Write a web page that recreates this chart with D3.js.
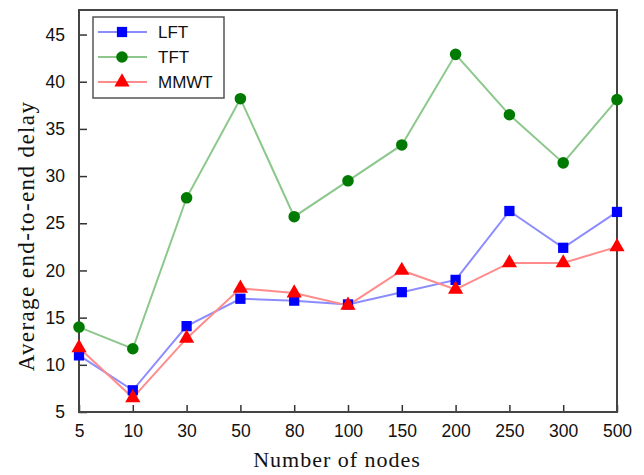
<!DOCTYPE html>
<html lang="en">
<head>
<meta charset="UTF-8">
<title>Average end-to-end delay</title>
<style>
  body { margin: 0; background: #fff; }
  .tick text { font-family: Arial, "Liberation Sans", sans-serif; font-size: 17.5px; fill: #111; }
  .axis-title { font-family: "Liberation Serif", "DejaVu Serif", serif; font-size: 22px; fill: #111; }
  .legend text { font-family: Arial, "Liberation Sans", sans-serif; font-size: 17px; fill: #111; }
</style>
</head>
<body>
<svg id="chart" width="644" height="475"></svg>
<script src="https://cdn.jsdelivr.net/npm/d3@7"></script>
<script>
// x categories (number of nodes)
const nodes = ["5", "10", "30", "50", "80", "100", "150", "200", "250", "300", "500"];
const yTicks = [5, 10, 15, 20, 25, 30, 35, 40, 45];

// delay values
const lft  = [11.0, 7.3, 14.1, 17.0, 16.8, 16.4, 17.7, 19.0, 26.3, 22.4, 26.2];
const tft  = [14.0, 11.7, 27.7, 38.2, 25.7, 29.5, 33.3, 42.9, 36.5, 31.4, 38.1];
const mmwt = [11.8, 6.5, 12.8, 18.1, 17.6, 16.3, 20.0, 18.0, 20.8, 20.8, 22.5];

const series = [
  { name: "LFT",  values: lft,  line: "#8c8cff", fill: "#0000ff", shape: d3.symbolSquare },
  { name: "TFT",  values: tft,  line: "#8cc88c", fill: "#007a00", shape: d3.symbolCircle },
  { name: "MMWT", values: mmwt, line: "#ff8c8c", fill: "#ff0000", shape: d3.symbolTriangle }
];

const svg = d3.select("#chart");
const m = { left: 79, right: 617, top: 10, bottom: 412 };

const x = d3.scalePoint().domain(nodes).range([m.left, m.right]);
const y = d3.scaleLinear().domain([5, 47.6]).range([m.bottom, m.top]);

// y axis, ticks point inward
const yAxis = svg.append("g")
    .attr("transform", `translate(${m.left},0)`)
    .call(d3.axisLeft(y).tickValues(yTicks).tickSize(-8).tickPadding(14));
yAxis.select(".domain").remove();
yAxis.selectAll(".tick line").attr("stroke", "#333").attr("stroke-width", 1.5);

// x axis
const xAxis = svg.append("g")
    .attr("transform", `translate(0,${m.bottom})`)
    .call(d3.axisBottom(x).tickSize(-7).tickPadding(13));
xAxis.select(".domain").remove();
xAxis.selectAll(".tick line").attr("stroke", "#333").attr("stroke-width", 1.5);
xAxis.selectAll(".tick text").attr("dy", "0.71em");

// frame
svg.append("rect")
    .attr("x", m.left).attr("y", m.top)
    .attr("width", m.right - m.left).attr("height", m.bottom - m.top)
    .attr("fill", "none").attr("stroke", "#444").attr("stroke-width", 2);

// lines and markers
const line = d3.line().x((d, i) => x(nodes[i])).y(d => y(d));
series.forEach(s => {
  svg.append("path")
      .datum(s.values)
      .attr("d", line)
      .attr("fill", "none")
      .attr("stroke", s.line)
      .attr("stroke-width", 2);
});
series.forEach(s => {
  svg.append("g").selectAll("path")
    .data(s.values)
    .join("path")
      .attr("transform", (d, i) => `translate(${x(nodes[i])},${y(d)})`)
      .attr("d", d3.symbol().type(s.shape).size(s.shape === d3.symbolTriangle ? 100 : 105))
      .attr("fill", s.fill);
});

// legend
const lg = svg.append("g").attr("class", "legend");
lg.append("rect")
    .attr("x", 93).attr("y", 17).attr("width", 131).attr("height", 81)
    .attr("fill", "#fff").attr("stroke", "#555").attr("stroke-width", 1.5);
series.forEach((s, i) => {
  const ly = 32 + i * 25;
  lg.append("line").attr("x1", 98).attr("x2", 147).attr("y1", ly).attr("y2", ly)
      .attr("stroke", s.line).attr("stroke-width", 2);
  lg.append("path")
      .attr("transform", `translate(122,${ly})`)
      .attr("d", d3.symbol().type(s.shape).size(s.shape === d3.symbolTriangle ? 100 : 105))
      .attr("fill", s.fill);
  lg.append("text").attr("x", 158).attr("y", ly).attr("dy", "0.36em").text(s.name);
});

// axis titles
svg.append("text").attr("class", "axis-title")
    .attr("x", 337).attr("y", 467)
    .attr("text-anchor", "middle")
    .style("letter-spacing", "1px")
    .text("Number of nodes");
svg.append("text").attr("class", "axis-title")
    .attr("transform", "translate(34,236) rotate(-90)")
    .attr("text-anchor", "middle")
    .style("font-size", "23px")
    .style("letter-spacing", "1.4px")
    .text("Average  end-to-end delay");
</script>
</body>
</html>
